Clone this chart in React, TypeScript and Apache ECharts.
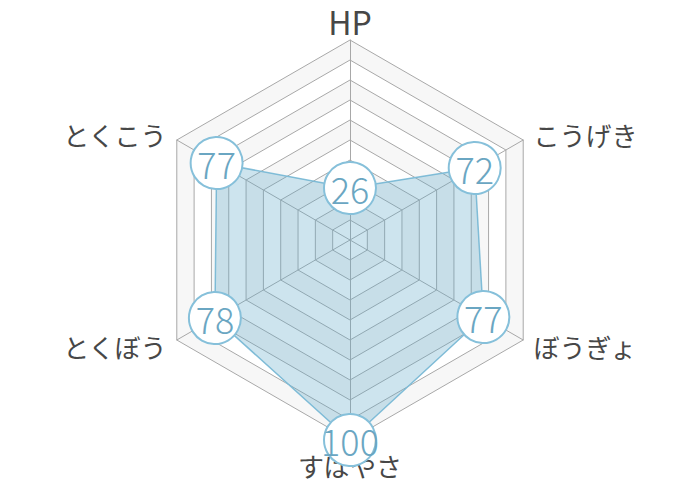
import React from "react";
import * as echarts from "echarts";

// clockwise from the top
const statNames = ["HP", "とくこう", "とくぼう", "すばやさ", "ぼうぎょ", "こうげき"];
const statValues = [26, 77, 78, 100, 77, 72];
const statMax = 100;

export default function App() {
  const ref = React.useRef<HTMLDivElement>(null);

  React.useEffect(() => {
    document.body.style.margin = "0";
    const el = ref.current;
    if (!el) return;
    const chart = echarts.init(el, undefined, { renderer: "svg" });
    chart.setOption({
      animation: false,
      radar: {
        center: [350, 240],
        radius: 200,
        startAngle: 90,
        splitNumber: 10,
        shape: "polygon",
        indicator: statNames.map(name => ({ name, max: statMax })),
        axisName: {
          color: "#474747",
          fontSize: 26,
          fontFamily: "Noto Sans CJK JP",
          formatter: (name: string) => (/^[A-Z]+$/.test(name) ? `{latin|${name}}` : name),
          rich: {
            latin: {
              color: "#474747",
              fontSize: 32,
              lineHeight: 14,
              fontFamily: "Noto Sans CJK JP",
            },
          },
        },
        nameGap: 12,
        splitLine: { lineStyle: { color: "#a8a8a8", width: 1 } },
        axisLine: { lineStyle: { color: "#a8a8a8", width: 1 } },
        splitArea: { show: true, areaStyle: { color: ["#ffffff", "#f7f7f7"] } },
      },
      series: [
        {
          type: "radar",
          z: 3,
          symbol: "circle",
          symbolSize: (v: number) => (v >= 100 ? 68 : 52),
          itemStyle: { color: "#ffffff", borderColor: "#86c0da", borderWidth: 2 },
          lineStyle: { color: "#86c0da", width: 1.5 },
          areaStyle: { color: "rgba(96, 168, 200, 0.45)" },
          label: {
            show: true,
            position: "inside",
            color: "#6aa6c2",
            fontSize: 36,
            fontWeight: 300,
            fontFamily: "Noto Sans CJK JP",
          },
          data: [{ value: statValues, name: "stats" }],
        },
      ],
    });
    return () => chart.dispose();
  }, []);

  return <div ref={ref} style={{ width: 700, height: 480 }} />;
}
